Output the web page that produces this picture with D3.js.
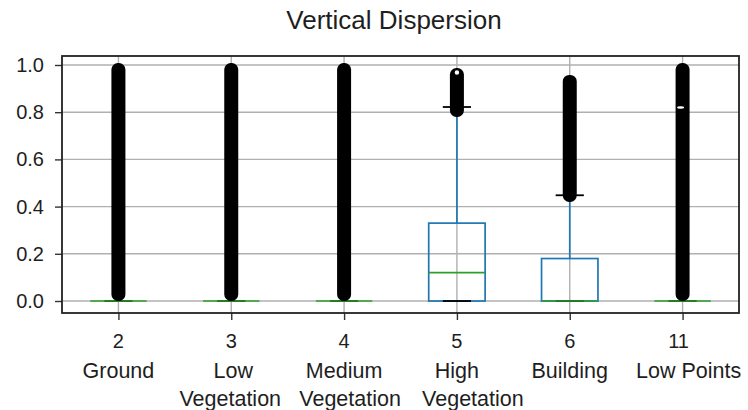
<!DOCTYPE html>
<html>
<head>
<meta charset="utf-8">
<script src="https://cdn.jsdelivr.net/npm/d3@7"></script>
<style>
  body { margin: 0; background: #fff; }
  text { font-family: "Liberation Sans", Arial, sans-serif; fill: #1e1e1e; }
</style>
</head>
<body>
<svg id="chart" width="748" height="410"></svg>
<script>
// classes and their labels (one line per entry)
var categories = ['2', '3', '4', '5', '6', '11'];
var catNames = [['Ground'], ['Low', 'Vegetation'], ['Medium', 'Vegetation'], ['High', 'Vegetation'], ['Building'], ['Low Points']];

// box statistics
var q1 = [0, 0, 0, 0, 0, 0];
var median = [0, 0, 0, 0.12, 0, 0];
var q3 = [0, 0, 0, 0.33, 0.18, 0];
var whiskLo = [0, 0, 0, 0, 0, 0];
var whiskHi = [0, 0, 0, 0.822, 0.448, 0];
// extent of the (very dense) outlier columns
var flierMin = [0, 0, 0, 0.78, 0.42, 0];
var flierMax = [1.008, 1.008, 1.008, 0.987, 0.958, 1.008];
// gaps visible inside the outlier columns
var openFliers5 = [0.968];
var openFliers11 = [0.82];

var yTicks = [0, 0.2, 0.4, 0.6, 0.8, 1.0];

var pLeft = 62, pRight = 739, pTop = 56, pBottom = 313;
// the wrapped labels in the original are not quite centred
var numShift = [0, 0, 0, 0, 0, -4];
var nameShift = [[0], [2, -1], [0, 6], [0, 16], [0], [6]];

var svg = d3.select('#chart');

var x = d3.scalePoint().domain(categories).range([pLeft, pRight]).padding(0.5);
var y = d3.scaleLinear().domain([-0.0508, 1.0381]).range([pBottom, pTop]);
var step = x.step();
var boxW = step * 0.5, capW = step * 0.25;

// grid
svg.append('g').selectAll('line').data(yTicks).enter().append('line')
  .attr('x1', pLeft).attr('x2', pRight)
  .attr('y1', function (d) { return y(d); }).attr('y2', function (d) { return y(d); })
  .attr('style', 'stroke:#b0b0b0;stroke-width:1.4');
svg.append('g').selectAll('line').data(categories).enter().append('line')
  .attr('x1', function (d) { return x(d); }).attr('x2', function (d) { return x(d); })
  .attr('y1', pTop).attr('y2', pBottom)
  .attr('style', 'stroke:#b0b0b0;stroke-width:1.4');

// axes
var yAxis = d3.axisLeft(y).tickValues(yTicks).tickFormat(d3.format('.1f')).tickSize(7).tickPadding(11);
var gy = svg.append('g').attr('transform', 'translate(' + pLeft + ',0)').call(yAxis);
gy.select('.domain').remove();
gy.selectAll('line').attr('stroke', '#333').attr('stroke-width', 1.4);
gy.selectAll('text').attr('font-size', 20).attr('font-family', 'Liberation Sans, Arial, sans-serif').attr('fill', '#1e1e1e');

var xAxis = d3.axisBottom(x).tickSize(7).tickFormat('');
var gx = svg.append('g').attr('transform', 'translate(0,' + pBottom + ')').call(xAxis);
gx.select('.domain').remove();
gx.selectAll('line').attr('stroke', '#333').attr('stroke-width', 1.4);

var lab = svg.append('g').selectAll('text').data(categories).enter().append('text')
  .attr('text-anchor', 'middle');
lab.append('tspan')
  .attr('x', function (d, i) { return x(d) + numShift[i]; })
  .attr('y', 348)
  .attr('font-size', 20)
  .text(function (d) { return d; });
lab.each(function (d, i) {
  var t = d3.select(this);
  catNames[i].forEach(function (line, k) {
    t.append('tspan')
      .attr('x', x(d) + nameShift[i][k])
      .attr('y', 378 + k * 28)
      .attr('font-size', 21.5)
      .text(line);
  });
});

// boxes
var boxes = svg.append('g').selectAll('g').data(categories).enter().append('g');
boxes.append('rect')
  .attr('x', function (d) { return x(d) - boxW / 2; })
  .attr('y', function (d, i) { return y(q3[i]); })
  .attr('width', boxW)
  .attr('height', function (d, i) { return y(q1[i]) - y(q3[i]); })
  .attr('style', 'fill:none;stroke:#1f77b4;stroke-width:1.7');
boxes.append('line')
  .attr('x1', function (d) { return x(d); }).attr('x2', function (d) { return x(d); })
  .attr('y1', function (d, i) { return y(q3[i]); }).attr('y2', function (d, i) { return y(whiskHi[i]); })
  .attr('style', 'stroke:#1f77b4;stroke-width:1.7');
boxes.append('line')
  .attr('x1', function (d) { return x(d) - capW / 2; }).attr('x2', function (d) { return x(d) + capW / 2; })
  .attr('y1', function (d, i) { return y(whiskLo[i]); }).attr('y2', function (d, i) { return y(whiskLo[i]); })
  .attr('style', 'stroke:#000;stroke-width:1.8');
boxes.append('line')
  .attr('x1', function (d) { return x(d) - boxW / 2; }).attr('x2', function (d) { return x(d) + boxW / 2; })
  .attr('y1', function (d, i) { return y(median[i]); }).attr('y2', function (d, i) { return y(median[i]); })
  .attr('style', 'stroke:#2ca02c;stroke-width:1.7');
// outliers: drawn as a solid column (thousands of overlapping circles)
boxes.append('rect')
  .attr('x', function (d) { return x(d) - 7; })
  .attr('width', 14)
  .attr('y', function (d, i) { return y(flierMax[i]); })
  .attr('height', function (d, i) { return y(flierMin[i]) - y(flierMax[i]); })
  .attr('rx', 6.5).attr('ry', 6.5)
  .attr('fill', '#000');
// upper cap on top of the outliers
boxes.append('line')
  .attr('x1', function (d) { return x(d) - capW / 2; }).attr('x2', function (d) { return x(d) + capW / 2; })
  .attr('y1', function (d, i) { return y(whiskHi[i]); }).attr('y2', function (d, i) { return y(whiskHi[i]); })
  .attr('style', 'stroke:#000;stroke-width:1.8')
  .attr('display', function (d, i) { return whiskHi[i] > 0 ? null : 'none'; });

svg.append('g').selectAll('circle').data(openFliers5).enter().append('circle')
  .attr('cx', x('5')).attr('cy', function (d) { return y(d); })
  .attr('r', 3).attr('style', 'fill:#fff;stroke:#000;stroke-width:1.5');
svg.append('g').selectAll('ellipse').data(openFliers11).enter().append('ellipse')
  .attr('cx', x('11') - 2).attr('cy', function (d) { return y(d); })
  .attr('rx', 3.5).attr('ry', 1.2).attr('fill', '#fff');

// frame
svg.append('rect')
  .attr('x', pLeft).attr('y', pTop).attr('width', pRight - pLeft).attr('height', pBottom - pTop)
  .attr('style', 'fill:none;stroke:#222;stroke-width:1.8');

svg.append('text')
  .attr('x', 394).attr('y', 29)
  .attr('text-anchor', 'middle')
  .attr('font-size', 26)
  .text('Vertical Dispersion');
</script>
</body>
</html>
